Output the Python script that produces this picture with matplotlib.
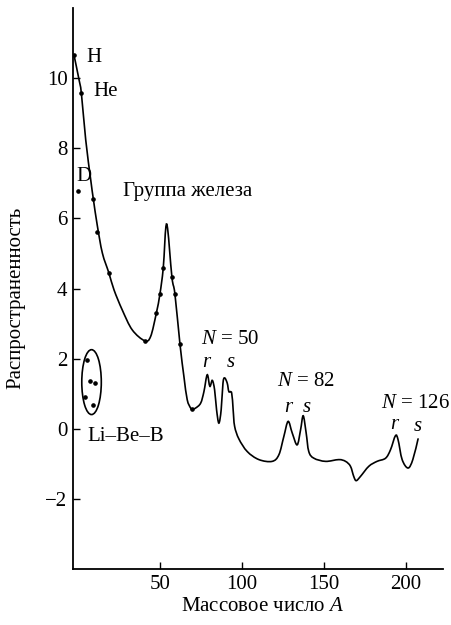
import matplotlib.pyplot as plt
from matplotlib.patches import Ellipse, PathPatch
from matplotlib.path import Path

plt.rcParams['font.family'] = ['Liberation Serif', 'DejaVu Serif']
plt.rcParams['mathtext.fontset'] = 'custom'
plt.rcParams['mathtext.rm'] = 'Liberation Serif'
plt.rcParams['mathtext.it'] = 'Liberation Serif:italic'

# abundance curve (mass number A, log abundance)
curve_A = [-2.4, 0.7, 2.1, 4.75, 7.8, 9.4, 11.8, 14.9, 18.9, 22.0, 27.0, 33.1,
           40.7, 44.3, 47.8, 50.0, 52.0, 54.1, 57.3, 59.1, 62.2, 64.6, 66.6,
           68.7, 69.7, 71.7, 74.8, 76.8, 78.8, 80.4, 81.9, 83.3, 84.5, 85.9,
           87.3, 88.4, 89.4, 91.0, 92.0, 93.7, 94.6, 95.5, 98.1, 103.2, 110.3,
           118.4, 122.5, 125.5, 128.1, 130.6, 133.6, 135.7, 137.3, 139.1, 140.7,
           143.8, 150.9, 159.0, 163.1, 166.1, 168.1, 169.6, 172.2, 177.3, 182.3,
           187.5, 190.5, 193.5, 195.1, 197.6, 201.2, 204.1, 207.3]
curve_y = [10.66, 9.95, 9.57, 8.24, 7.10, 6.55, 5.80, 5.01, 4.44, 3.96, 3.39, 2.82,
           2.51, 2.63, 3.30, 3.85, 4.58, 5.84, 4.32, 3.85, 2.41, 1.49, 0.83,
           0.59, 0.56, 0.59, 0.73, 1.06, 1.54, 1.21, 1.38, 1.11, 0.54, 0.16,
           0.54, 1.30, 1.45, 1.30, 1.06, 1.02, 0.54, 0.07, -0.29, -0.65, -0.88,
           -0.93, -0.74, -0.22, 0.21, -0.12, -0.46, -0.03, 0.37, -0.12, -0.65,
           -0.84, -0.93, -0.88, -0.93, -1.07, -1.36, -1.48, -1.36, -1.07, -0.93,
           -0.84, -0.60, -0.20, -0.31, -0.88, -1.12, -0.88, -0.29]

# measured points
dot_A = [-2.4, 2.1, 0.06, 9.4, 11.8, 18.9, 40.7, 47.8, 50.0, 52.0, 57.3, 59.1, 62.2, 69.7]
dot_y = [10.66, 9.57, 6.79, 6.55, 5.62, 4.44, 2.51, 3.30, 3.85, 4.58, 4.32, 3.85, 2.41, 0.56]

# Li-Be-B points
libeb_A = [5.7, 7.1, 10.2, 4.3, 9.1]
libeb_y = [1.97, 1.35, 1.31, 0.90, 0.68]


def smooth_path(xs, ys):
    # Catmull-Rom through the points, written as cubic Bezier segments
    pts = list(zip(xs, ys))
    verts = [pts[0]]
    codes = [Path.MOVETO]
    n = len(pts)
    for i in range(n - 1):
        p0 = pts[max(i - 1, 0)]
        p1 = pts[i]
        p2 = pts[i + 1]
        p3 = pts[min(i + 2, n - 1)]
        c1 = (p1[0] + (p2[0] - p0[0]) / 6, p1[1] + (p2[1] - p0[1]) / 6)
        c2 = (p2[0] - (p3[0] - p1[0]) / 6, p2[1] - (p3[1] - p1[1]) / 6)
        verts += [c1, c2, p2]
        codes += [Path.CURVE4] * 3
    return Path(verts, codes)


fig = plt.figure(figsize=(4.52, 6.25), dpi=100)
ax = fig.add_axes([73 / 452, 56 / 625, 370 / 452, 561 / 625])

ax.add_patch(PathPatch(smooth_path(curve_A, curve_y), fill=False,
                       edgecolor='black', lw=1.2, capstyle='round'))
ax.plot(dot_A, dot_y, 'o', color='black', ms=2.3)
ax.plot(libeb_A, libeb_y, 'o', color='black', ms=2.3)
ax.add_patch(Ellipse((8.3, 1.33), 11.9, 1.85, fill=False, color='black', lw=1.2))

ax.set_xlim(-3.0, 222.5)
ax.set_ylim(-4.0, 12.0)
ax.set_xticks([50, 100, 150, 200])
ax.set_yticks([-2, 0, 2, 4, 6, 8, 10])
ax.tick_params(direction='in', length=5, width=1, labelsize=15, pad=4)
for s in ['top', 'right']:
    ax.spines[s].set_visible(False)
for s in ['left', 'bottom']:
    ax.spines[s].set_linewidth(1.3)

ax.set_xlabel(r'Массовое число $A$', fontsize=15)
ax.set_ylabel('Распространенность', fontsize=15)
ax.xaxis.set_label_coords(0.514, -0.050)
ax.yaxis.set_label_coords(-0.128, 0.483)

fs = 15
ax.text(4.9, 10.58, 'H', fontsize=fs, va='center')
ax.text(9.2, 9.62, 'He', fontsize=fs, va='center')
ax.text(-1.2, 7.2, 'D', fontsize=fs, va='center')
ax.text(27.5, 6.76, 'Группа железа', fontsize=fs, va='center')
ax.text(5.5, -0.23, 'Li–Be–B', fontsize=fs, va='center')
ax.text(75.0, 2.54, r'$N$ = 50', fontsize=fs, va='center')
ax.text(78.6, 1.88, r'$r$', fontsize=fs, ha='center', va='center')
ax.text(93.2, 1.88, r'$s$', fontsize=fs, ha='center', va='center')
ax.text(121.2, 1.35, r'$N$ = 82', fontsize=fs, va='center')
ax.text(128.5, 0.6, r'$r$', fontsize=fs, ha='center', va='center')
ax.text(139.7, 0.6, r'$s$', fontsize=fs, ha='center', va='center')
ax.text(184.6, 0.71, r'$N$ = 126', fontsize=fs, va='center')
ax.text(193.5, 0.11, r'$r$', fontsize=fs, ha='center', va='center')
ax.text(207.3, 0.06, r'$s$', fontsize=fs, ha='center', va='center')

fig.savefig('out.png', dpi=100)
